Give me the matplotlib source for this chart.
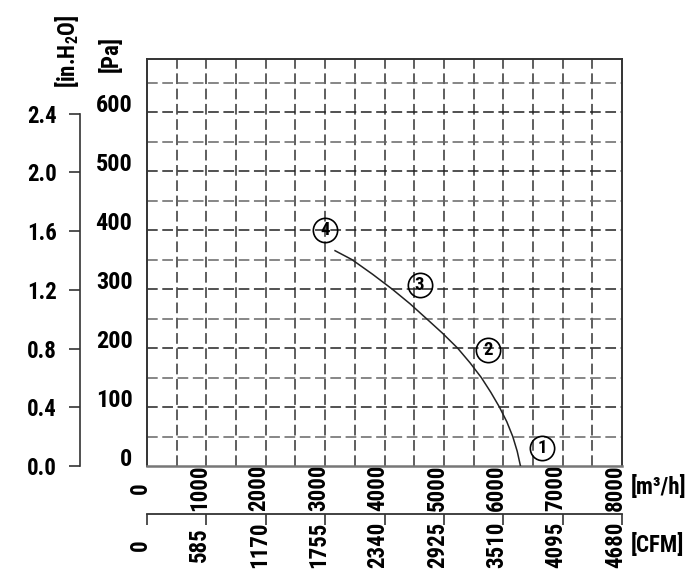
import numpy as np
import matplotlib
matplotlib.use("Agg")
import matplotlib.pyplot as plt

plt.rcParams['font.family'] = ['Roboto Condensed', 'PT Sans Narrow', 'Liberation Sans', 'DejaVu Sans']
plt.rcParams['font.weight'] = 'bold'
plt.rcParams['mathtext.fontset'] = 'custom'
plt.rcParams['mathtext.rm'] = 'Roboto Condensed:bold'

# data
flow = [3167, 3450, 3800, 4128, 4430, 4705, 4978, 5230, 5440, 5630, 5790, 5935, 6060, 6160, 6235, 6290]  # m3/h
press = [365, 350, 325, 300, 275, 250, 225, 200, 175, 150, 125, 100, 75, 50, 25, 0]                     # Pa

pt_flow = [6650, 5742, 4590, 3000]
pt_press = [30, 197, 307, 400]
pt_labels = ['1', '2', '3', '4']

m3h_ticks = [0, 1000, 2000, 3000, 4000, 5000, 6000, 7000, 8000]
cfm_ticks = [0, 585, 1170, 1755, 2340, 2925, 3510, 4095, 4680]
pa_ticks = [0, 100, 200, 300, 400, 500, 600]
inh2o_ticks = [0.0, 0.4, 0.8, 1.2, 1.6, 2.0, 2.4]

W, H = 700, 583
fig = plt.figure(figsize=(7, 5.83), dpi=100)
ax = fig.add_axes([147 / W, 1 - 466 / H, (622 - 147) / W, (466 - 59) / H])
ax.set_xlim(0, 8000)
ax.set_ylim(0, 690)

# grid
for x in range(500, 8000, 500):
    ax.axvline(x, color='#333333', lw=1.1, ls=(0, (7, 3)), zorder=1)
for y in range(50, 690, 50):
    c = '#222222' if y % 100 == 0 else '#666666'
    ax.axhline(y, color=c, lw=1.1, ls=(0, (7, 3)), zorder=1)

ax.plot(flow, press, color='#222222', lw=1.1, zorder=3)
ax.plot(pt_flow, pt_press, 'o', ms=17.5, mfc='none', mec='black', mew=1.2, zorder=4)
for x, y, s in zip(pt_flow, pt_press, pt_labels):
    ax.text(x, y, s, ha='center', va='center', fontsize=13.5, zorder=5)

for sp in ax.spines.values():
    sp.set_color('#333333')
    sp.set_linewidth(1.4)
ax.spines['bottom'].set_color('#777777')
ax.spines['bottom'].set_linewidth(1.8)

ax.set_xticks(m3h_ticks, [str(v) for v in m3h_ticks])
ax.tick_params(axis='x', length=0, pad=15.8, labelsize=16.5)
for lbl in ax.get_xticklabels():
    lbl.set_rotation(90)
    lbl.set_rotation_mode('anchor')
    lbl.set_ha('center')
    lbl.set_va('baseline')

ax.set_yticks(pa_ticks, [str(v) for v in pa_ticks])
ax.tick_params(axis='y', length=0, pad=10.5, labelsize=17.5)
for lbl in ax.get_yticklabels():
    lbl.set_va('baseline')

# in.H2O scale
sy = ax.secondary_yaxis((80 - 147) / 475, functions=(lambda p: p / 249.0, lambda i: i * 249.0))
sy.set_yticks(inh2o_ticks, ['%.1f' % v for v in inh2o_ticks])
sy.tick_params(length=8, width=1.2, pad=8.5, labelsize=16.5, color='#333333')
sy.spines['left'].set_bounds(0, 2.4)
sy.spines['left'].set_color('#333333')
sy.spines['left'].set_linewidth(1.2)

# CFM scale
sx = ax.secondary_xaxis((466 - 514) / 407, functions=(lambda m: m * 0.585, lambda c: c / 0.585))
sx.set_xticks(cfm_ticks, [str(v) for v in cfm_ticks])
sx.tick_params(length=8, width=1.2, pad=14.4, labelsize=16.5, color='#333333')
sx.spines['bottom'].set_color('#333333')
sx.spines['bottom'].set_linewidth(1.3)
for lbl in sx.get_xticklabels():
    lbl.set_rotation(90)
    lbl.set_rotation_mode('anchor')
    lbl.set_ha('center')
    lbl.set_va('baseline')

def px(x, y):
    return x / W, 1 - y / H

fig.text(*px(67, 51), r'[in.H$_\mathregular{2}$O]', rotation=90, ha='center', va='center', fontsize=16.5)
fig.text(*px(111, 54), '[Pa]', rotation=90, ha='center', va='center', fontsize=16.5)
fig.text(*px(631, 487), '[m³/h]', ha='left', va='center', fontsize=16.5)
fig.text(*px(631, 545), '[CFM]', ha='left', va='center', fontsize=16.5)

fig.savefig('out.png', dpi=100)
